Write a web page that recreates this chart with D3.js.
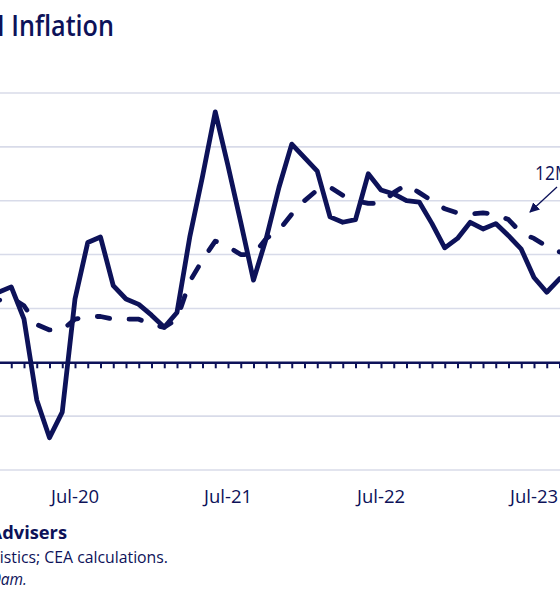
<!DOCTYPE html>
<html>
<head>
<meta charset="utf-8">
<script src="https://cdn.jsdelivr.net/npm/d3@7"></script>
<style>
  html, body { margin: 0; padding: 0; background: #fff; overflow: hidden; }
  svg { display: block; font-family: "Open Sans", "Noto Sans", sans-serif; }
</style>
</head>
<body>
<svg id="chart" width="560" height="598"></svg>
<script>
// ---- data ----
const months = ["Oct-19","Nov-19","Dec-19",
  "Jan-20","Feb-20","Mar-20","Apr-20","May-20","Jun-20","Jul-20","Aug-20","Sep-20","Oct-20","Nov-20","Dec-20",
  "Jan-21","Feb-21","Mar-21","Apr-21","May-21","Jun-21","Jul-21","Aug-21","Sep-21","Oct-21","Nov-21","Dec-21",
  "Jan-22","Feb-22","Mar-22","Apr-22","May-22","Jun-22","Jul-22","Aug-22","Sep-22","Oct-22","Nov-22","Dec-22",
  "Jan-23","Feb-23","Mar-23","Apr-23","May-23","Jun-23","Jul-23","Aug-23","Sep-23","Oct-23","Nov-23","Dec-23"];
// 3-month annualized (solid)
const threeMonth = [2.5, 2.4, 2.5,
  2.6, 2.8, 1.6, -1.4, -2.8, -1.85, 2.35, 4.45, 4.65, 2.85, 2.35, 2.15,
  1.75, 1.3, 1.85, 4.65, 6.9, 9.3, 7.3, 5.2, 3.05, 4.6, 6.5, 8.1,
  7.6, 7.1, 5.4, 5.2, 5.3, 7.0, 6.4, 6.25, 6.0, 5.95, 5.15, 4.25,
  4.6, 5.2, 4.95, 5.15, 4.7, 4.2, 3.15, 2.6, 3.1, 3.3, 3.4, 3.3];
// 12-month (dashed)
const twelveMonth = [2.3, 2.3, 2.3,
  2.3, 2.4, 2.1, 1.4, 1.2, 1.2, 1.6, 1.7, 1.7, 1.6, 1.6, 1.6,
  1.4, 1.3, 1.6, 3.0, 3.8, 4.5, 4.3, 4.0, 4.0, 4.6, 4.9, 5.5,
  6.0, 6.4, 6.5, 6.2, 6.0, 5.9, 5.9, 6.3, 6.6, 6.3, 6.0, 5.7,
  5.55, 5.5, 5.55, 5.5, 5.3, 4.8, 4.6, 4.3, 4.1, 4.0, 4.0, 3.9];
const yTicks = [-4, -2, 0, 2, 4, 6, 8, 10];
const xLabels = ["Jul-20", "Jul-21", "Jul-22", "Jul-23"];

const navy = "#0d1259";
const svg = d3.select("#chart");

const x = d3.scalePoint().domain(months).range([-39.75, 597.75]).padding(0);
const y = d3.scaleLinear().domain([-4, 10]).range([470, 93]);

// gridlines
svg.append("g").selectAll("line").data(yTicks.filter(d => d !== 0)).join("line")
  .attr("x1", -60).attr("x2", 620)
  .attr("y1", d => y(d)).attr("y2", d => y(d))
  .attr("stroke", "#d8dbe9").attr("stroke-width", 1.6);

// zero axis with monthly ticks
const xAxis = d3.axisBottom(x).tickSize(6).tickFormat("");
const ax = svg.append("g").attr("transform", `translate(0,${y(0)})`).call(xAxis);
ax.select(".domain").attr("stroke", navy).attr("stroke-width", 2.4);
ax.selectAll(".tick line").attr("stroke", navy).attr("stroke-width", 2);

// tick labels
svg.append("g").selectAll("text").data(xLabels).join("text")
  .attr("x", d => x(d)).attr("y", 503)
  .attr("text-anchor", "middle")
  .attr("font-size", 18.5).attr("fill", navy)
  .text(d => d);

const line = d3.line().x((d, i) => x(months[i])).y(d => y(d));

svg.append("path").datum(twelveMonth)
  .attr("d", line).attr("fill", "none")
  .attr("stroke", navy).attr("stroke-width", 4.8)
  .attr("stroke-dasharray", "12.5,19.5").attr("stroke-dashoffset", 5)
  .attr("stroke-linecap", "round")
  .attr("stroke-linejoin", "round");

svg.append("path").datum(threeMonth)
  .attr("d", line).attr("fill", "none")
  .attr("stroke", navy).attr("stroke-width", 4.8)
  .attr("stroke-linejoin", "round");

// 12M label and arrow
svg.append("defs").append("marker").attr("id", "ah")
  .attr("viewBox", "0 0 10 10").attr("refX", 9).attr("refY", 5)
  .attr("markerWidth", 10).attr("markerHeight", 10).attr("orient", "auto")
  .attr("markerUnits", "userSpaceOnUse")
  .append("path").attr("d", "M0,0 L10,5 L0,10 z").attr("fill", navy);
svg.append("line").attr("x1", 557).attr("y1", 187).attr("x2", 530).attr("y2", 212)
  .attr("stroke", navy).attr("stroke-width", 1.3).attr("marker-end", "url(#ah)");
svg.append("text").attr("transform", "translate(535,180) scale(0.85,1)")
  .attr("font-size", 20.5).attr("fill", navy).text("12M");

// title (slightly condensed to mimic the original face)
svg.append("text").attr("transform", "translate(114,36) scale(0.9,1)")
  .attr("text-anchor", "end")
  .attr("font-size", 28).attr("font-weight", 600).attr("fill", navy)
  .text("Core CPI Inflation");

// footer
svg.append("text").attr("x", 67).attr("y", 539).attr("text-anchor", "end")
  .attr("font-size", 18.3).attr("font-weight", 700).attr("fill", navy)
  .text("Council of Economic Advisers");
svg.append("text").attr("x", 168).attr("y", 563).attr("text-anchor", "end")
  .attr("font-size", 15.8).attr("fill", navy)
  .text("Source: Bureau of Labor Statistics; CEA calculations.");
svg.append("text").attr("x", 27).attr("y", 585).attr("text-anchor", "end")
  .attr("font-size", 15.5).attr("font-style", "italic").attr("fill", navy)
  .text("Note: Data released at 8:30am.");
</script>
</body>
</html>
